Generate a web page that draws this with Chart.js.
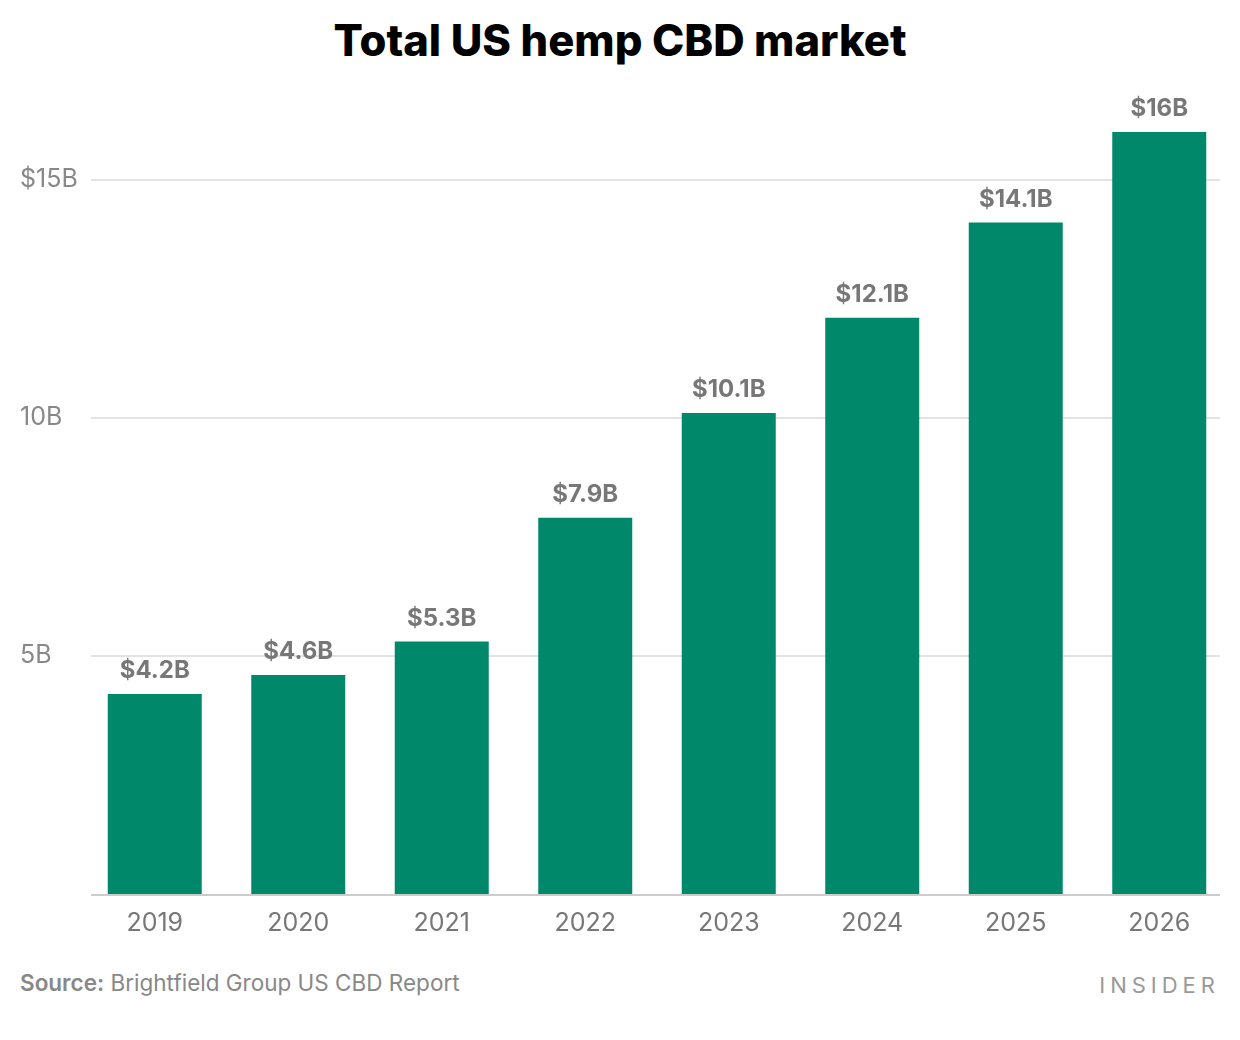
<!DOCTYPE html>
<html>
<head>
<meta charset="utf-8">
<script src="https://cdn.jsdelivr.net/npm/chart.js@4"></script>
<style>
  body { margin: 0; background: #fff; font-family: Inter, "Noto Sans", sans-serif; }
  #wrap { position: relative; width: 1240px; height: 1040px; }
  h1 { position: absolute; top: 14px; left: 0; width: 1240px; margin: 0; text-align: center;
       font-size: 43.5px; font-weight: 800; color: #000; }
  #box { position: absolute; top: 80px; left: 0; width: 1240px; height: 870px; }
  .src { position: absolute; left: 20px; top: 969px; font-size: 22.5px; color: #888; }
  .src b { font-weight: 600; }
  .brand { position: absolute; right: 20px; top: 972px; font-size: 22px; color: #999; letter-spacing: 5px; }
</style>
</head>
<body>
<div id="wrap">
  <h1>Total US hemp CBD market</h1>
  <div id="box"><canvas id="barChart"></canvas></div>
  <div class="src"><b>Source:</b> Brightfield Group US CBD Report</div>
  <div class="brand">INSIDER</div>
</div>
<script>
// Dados
const years = ["2019", "2020", "2021", "2022", "2023", "2024", "2025", "2026"];
const marketValues = [4.2, 4.6, 5.3, 7.9, 10.1, 12.1, 14.1, 16];
const valueLabels = ["$4.2B", "$4.6B", "$5.3B", "$7.9B", "$10.1B", "$12.1B", "$14.1B", "$16B"];
const yTicks = [5, 10, 15];
const yTickLabels = ["5B", "10B", "$15B"];

const FONT = 'Inter, "Noto Sans", sans-serif';
// as linhas de grade ficam um pouco para dentro da área das barras
const GRID_INSET_LEFT = 8;
const GRID_INSET_RIGHT = 11;

// Linhas de grade e linha de base
const gridLines = {
  id: 'gridLines',
  beforeDatasetsDraw(chart) {
    const ctx = chart.ctx;
    const area = chart.chartArea;
    const y = chart.scales.y;
    const x0 = area.left + GRID_INSET_LEFT;
    const x1 = area.right - GRID_INSET_RIGHT;
    ctx.save();
    ctx.lineWidth = 2;
    ctx.strokeStyle = '#e3e3e3';
    yTicks.forEach(v => {
      const py = Math.round(y.getPixelForValue(v));
      ctx.beginPath();
      ctx.moveTo(x0, py);
      ctx.lineTo(x1, py);
      ctx.stroke();
    });
    ctx.restore();
  },
  afterDatasetsDraw(chart) {
    const ctx = chart.ctx;
    const area = chart.chartArea;
    const py = chart.scales.y.getPixelForValue(0) + 1;
    ctx.save();
    ctx.lineWidth = 2;
    ctx.strokeStyle = '#ccc';
    ctx.beginPath();
    ctx.moveTo(area.left + GRID_INSET_LEFT, py);
    ctx.lineTo(area.right - GRID_INSET_RIGHT, py);
    ctx.stroke();
    ctx.restore();
  }
};

// Rótulos acima das barras
const barLabels = {
  id: 'barLabels',
  afterDatasetsDraw(chart) {
    const ctx = chart.ctx;
    const meta = chart.getDatasetMeta(0);
    ctx.save();
    ctx.font = 'bold 24px ' + FONT;
    ctx.fillStyle = '#777';
    ctx.textAlign = 'center';
    ctx.textBaseline = 'middle';
    meta.data.forEach((bar, i) => {
      ctx.fillText(valueLabels[i], bar.x, bar.y - 23);
    });
    ctx.restore();
  }
};

const ctx = document.getElementById('barChart').getContext('2d');
new Chart(ctx, {
  type: 'bar',
  data: {
    labels: years,
    datasets: [{
      data: marketValues,
      backgroundColor: '#00886A',
      categoryPercentage: 1,
      barPercentage: 0.655
    }]
  },
  options: {
    responsive: true,
    maintainAspectRatio: false,
    animation: false,
    layout: { padding: { top: 52, left: 20, right: 9, bottom: 0 } },
    plugins: { legend: { display: false }, tooltip: { enabled: false } },
    scales: {
      x: {
        grid: { display: false, drawTicks: false },
        border: { display: false },
        ticks: { color: '#777', font: { size: 25, family: FONT }, padding: 14 },
        afterFit(axis) { axis.height = 56; }
      },
      y: {
        min: 0,
        max: 16,
        border: { display: false },
        grid: { display: false, drawTicks: false },
        afterBuildTicks(axis) { axis.ticks = yTicks.map(v => ({ value: v })); },
        ticks: {
          color: '#888',
          font: { size: 25, family: FONT },
          crossAlign: 'far',
          padding: 4,
          callback: (v) => yTickLabels[yTicks.indexOf(v)]
        },
        afterFit(axis) { axis.width = 63; }
      }
    }
  },
  plugins: [gridLines, barLabels]
});
</script>
</body>
</html>
